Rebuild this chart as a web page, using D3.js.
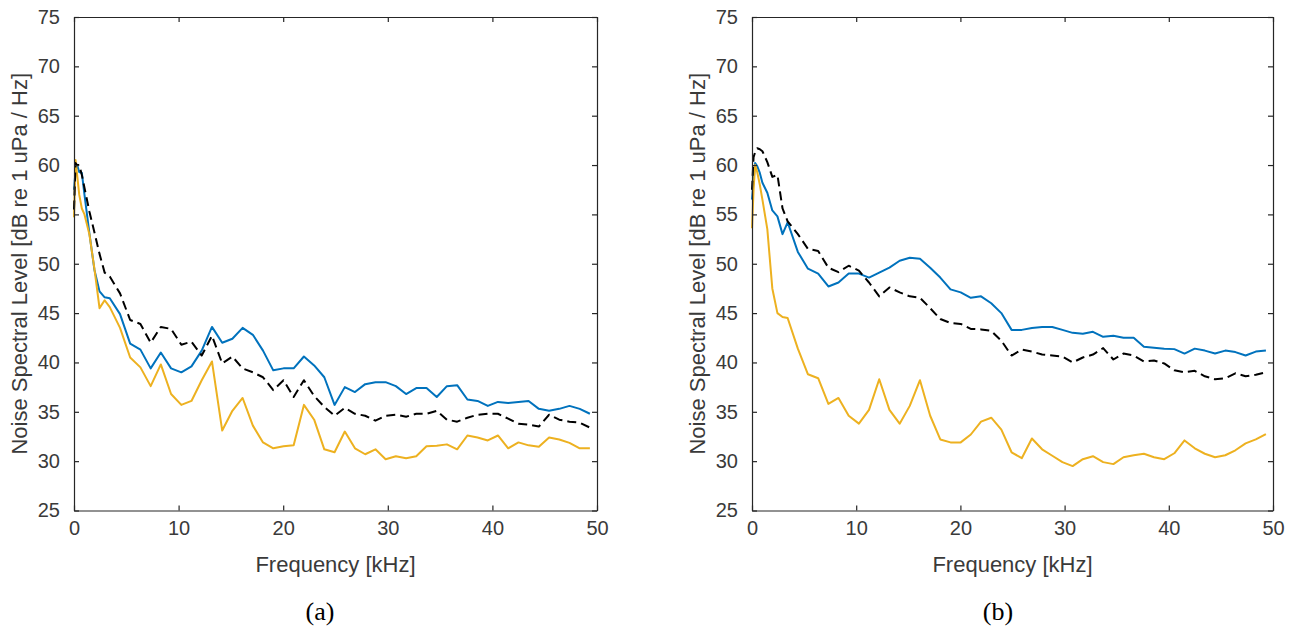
<!DOCTYPE html>
<html>
<head>
<meta charset="utf-8">
<script src="https://cdn.jsdelivr.net/npm/d3@7"></script>
<style>
  html, body { margin: 0; padding: 0; background: #fff; }
  svg { display: block; }
</style>
</head>
<body>
<svg id="chart" width="1296" height="633"></svg>
<script>
// ---------- data ----------
const freqKHz = [0, 0.15, 0.3, 0.5, 0.75, 1.0, 1.47, 1.95, 2.44, 2.93, 3.42,
  4.40, 5.37, 6.35, 7.33, 8.30, 9.28, 10.26, 11.23, 12.21, 13.19, 14.17, 15.14, 16.12, 17.10, 18.07, 19.05, 20.03, 21.00, 21.98, 22.96, 23.93, 24.91,
  25.89, 26.86, 27.84, 28.82, 29.79, 30.77, 31.75, 32.72, 33.70, 34.68, 35.65, 36.63, 37.61, 38.58, 39.56, 40.53, 41.51, 42.49, 43.46, 44.44, 45.42, 46.39, 47.37, 48.35, 49.32];

const xTicks = [0, 10, 20, 30, 40, 50];
const yTicks = [25, 30, 35, 40, 45, 50, 55, 60, 65, 70, 75];
const panelLabels = ["(a)", "(b)"];

// panel (a)
const aBlue = [57.5, 59.5, 60.0, 59.3, 59.2, 57.0, 53.1, 49.4, 47.2, 46.6, 46.5,
  44.9, 41.9, 41.3, 39.4, 41.0, 39.4, 39.0, 39.6, 41.2, 43.6, 42.0, 42.4, 43.5, 42.8, 41.2, 39.2, 39.4, 39.4, 40.6, 39.7, 38.5, 35.7,
  37.5, 37.0, 37.8, 38.0, 38.0, 37.6, 36.8, 37.4, 37.4, 36.5, 37.6, 37.7, 36.25, 36.1, 35.6, 36.0, 35.9, 36.0, 36.1, 35.3, 35.1, 35.3, 35.6, 35.3, 34.8];
const aBlack = [55.5, 60.2, 60.0, 60.0, 59.0, 57.7, 55.3, 53.2, 51.0, 49.1, 48.7,
  47.0, 44.3, 43.9, 42.0, 43.6, 43.4, 41.8, 42.1, 40.7, 42.7, 39.9, 40.6, 39.4, 39.0, 38.5, 37.2, 38.2, 36.5, 38.2, 36.6, 35.5, 34.6,
  35.4, 34.8, 34.6, 34.1, 34.6, 34.7, 34.5, 34.8, 34.8, 35.1, 34.2, 34.0, 34.4, 34.7, 34.8, 34.8, 34.3, 33.8, 33.7, 33.5, 34.7, 34.2, 34.0, 33.9, 33.4];
const aYellow = [54.7, 60.5, 59.0, 57.0, 55.6, 55.0, 53.0, 49.5, 45.5, 46.3, 45.6,
  43.5, 40.5, 39.5, 37.6, 39.8, 36.8, 35.7, 36.1, 38.2, 40.1, 33.1, 35.1, 36.4, 33.6, 31.9, 31.3, 31.5, 31.6, 35.7, 34.2, 31.2, 30.9,
  33.0, 31.3, 30.7, 31.2, 30.2, 30.5, 30.3, 30.5, 31.5, 31.55, 31.7, 31.2, 32.6, 32.4, 32.1, 32.6, 31.3, 31.9, 31.6, 31.45, 32.4, 32.2, 31.85, 31.3, 31.3];

// panel (b)
const bBlue = [56.5, 58.5, 60.2, 59.9, 59.2, 58.2, 57.2, 55.4, 54.8, 53.0, 54.2,
  51.2, 49.5, 49.0, 47.7, 48.1, 49.0, 49.0, 48.6, 49.1, 49.6, 50.3, 50.6, 50.5, 49.6, 48.6, 47.4, 47.1, 46.55, 46.7, 46.0, 45.0, 43.3,
  43.3, 43.5, 43.6, 43.6, 43.3, 43.0, 42.9, 43.1, 42.6, 42.7, 42.5, 42.5, 41.6, 41.5, 41.4, 41.35, 40.9, 41.4, 41.2, 40.9, 41.2, 41.05, 40.7, 41.1, 41.2];
const bBlack = [57.5, 60.8, 61.3, 61.7, 61.6, 61.4, 60.3, 58.8, 59.0, 55.6, 54.3,
  53.0, 51.5, 51.3, 49.6, 49.15, 49.8, 49.3, 48.1, 46.7, 47.6, 47.1, 46.7, 46.55, 45.5, 44.4, 44.0, 43.9, 43.4, 43.35, 43.2, 42.2, 40.7,
  41.3, 41.1, 40.8, 40.7, 40.6, 40.0, 40.5, 40.8, 41.45, 40.3, 40.9, 40.7, 40.1, 40.2, 39.9, 39.2, 39.0, 39.15, 38.6, 38.3, 38.4, 38.9, 38.6, 38.75, 39.0];
const bYellow = [53.6, 57.5, 60.0, 59.3, 58.0, 56.5, 53.5, 47.5, 45.0, 44.6, 44.5,
  41.4, 38.8, 38.4, 35.8, 36.4, 34.6, 33.8, 35.2, 38.3, 35.2, 33.8, 35.6, 38.2, 34.6, 32.2, 31.9, 31.9, 32.7, 34.0, 34.4, 33.2, 30.9,
  30.3, 32.3, 31.2, 30.55, 29.9, 29.5, 30.2, 30.5, 29.9, 29.7, 30.4, 30.6, 30.75, 30.4, 30.2, 30.8, 32.1, 31.3, 30.75, 30.4, 30.6, 31.1, 31.8, 32.2, 32.75];

const xLabel = "Frequency [kHz]";
const yLabel = "Noise Spectral Level [dB re 1 uPa / Hz]";

// ---------- drawing ----------
const svg = d3.select("#chart");
const axisColor = "#262626";
const textColor = "#3a3a3a";
const sansFont = "'Liberation Sans', Arial, Helvetica, sans-serif";
const serifFont = "'Liberation Serif', 'Times New Roman', serif";

const panels = [
  { left: 74, right: 597, label: panelLabels[0], labelX: 320, series: [
      { v: aBlue, color: "#0072BD", dash: null },
      { v: aYellow, color: "#EDB120", dash: null },
      { v: aBlack, color: "#000000", dash: "9,5" } ] },
  { left: 752, right: 1273, label: panelLabels[1], labelX: 998, series: [
      { v: bBlue, color: "#0072BD", dash: null },
      { v: bYellow, color: "#EDB120", dash: null },
      { v: bBlack, color: "#000000", dash: "9,5" } ] }
];

const plotTop = 17, plotBottom = 510.5;

panels.forEach(p => {
  const x = d3.scaleLinear().domain([0, 50]).range([p.left, p.right]);
  const y = d3.scaleLinear().domain([25, 75]).range([plotBottom, plotTop]);
  const g = svg.append("g");

  // lines
  const line = d3.line().x((d, i) => x(freqKHz[i])).y(d => y(d));
  p.series.forEach(s => {
    g.append("path")
      .datum(s.v)
      .attr("fill", "none")
      .attr("stroke", s.color)
      .attr("stroke-width", 2)
      .attr("stroke-linejoin", "round")
      .attr("stroke-dasharray", s.dash)
      .attr("d", line);
  });

  // axes (ticks inside, MATLAB style box)
  const bottomAxis = d3.axisBottom(x).tickValues(xTicks).tickSizeInner(-5).tickSizeOuter(0).tickPadding(10).tickFormat(d3.format("d"));
  const topAxis = d3.axisTop(x).tickValues(xTicks).tickSizeInner(-5).tickSizeOuter(0).tickFormat("");
  const leftAxis = d3.axisLeft(y).tickValues(yTicks).tickSizeInner(-5).tickSizeOuter(0).tickPadding(14).tickFormat(d3.format("d"));
  const rightAxis = d3.axisRight(y).tickValues(yTicks).tickSizeInner(-5).tickSizeOuter(0).tickFormat("");

  const styleAxis = sel => {
    sel.select(".domain").attr("stroke", axisColor).attr("stroke-width", 1.2);
    sel.selectAll(".tick line").attr("stroke", axisColor).attr("stroke-width", 1.2);
    sel.selectAll(".tick text").attr("fill", textColor).style("font-family", sansFont).style("font-size", "20px");
  };

  g.append("g").attr("transform", `translate(0,${plotBottom})`).call(bottomAxis).call(styleAxis);
  g.append("g").attr("transform", `translate(0,${plotTop})`).call(topAxis).call(styleAxis);
  g.append("g").attr("transform", `translate(${p.left},0)`).call(leftAxis).call(styleAxis);
  g.append("g").attr("transform", `translate(${p.right},0)`).call(rightAxis).call(styleAxis);

  // axis titles
  g.append("text")
    .attr("x", (p.left + p.right) / 2)
    .attr("y", 572)
    .attr("text-anchor", "middle")
    .attr("fill", textColor)
    .style("font-family", sansFont)
    .style("font-size", "22px")
    .text(xLabel);

  g.append("text")
    .attr("transform", `translate(${p.left - 47},${(plotTop + plotBottom) / 2}) rotate(-90)`)
    .attr("text-anchor", "middle")
    .attr("fill", textColor)
    .style("font-family", sansFont)
    .style("font-size", "22px")
    .text(yLabel);

  // panel label
  g.append("text")
    .attr("x", p.labelX)
    .attr("y", 620)
    .attr("text-anchor", "middle")
    .attr("fill", "#000")
    .style("font-family", serifFont)
    .style("font-size", "26px")
    .text(p.label);
});
</script>
</body>
</html>
